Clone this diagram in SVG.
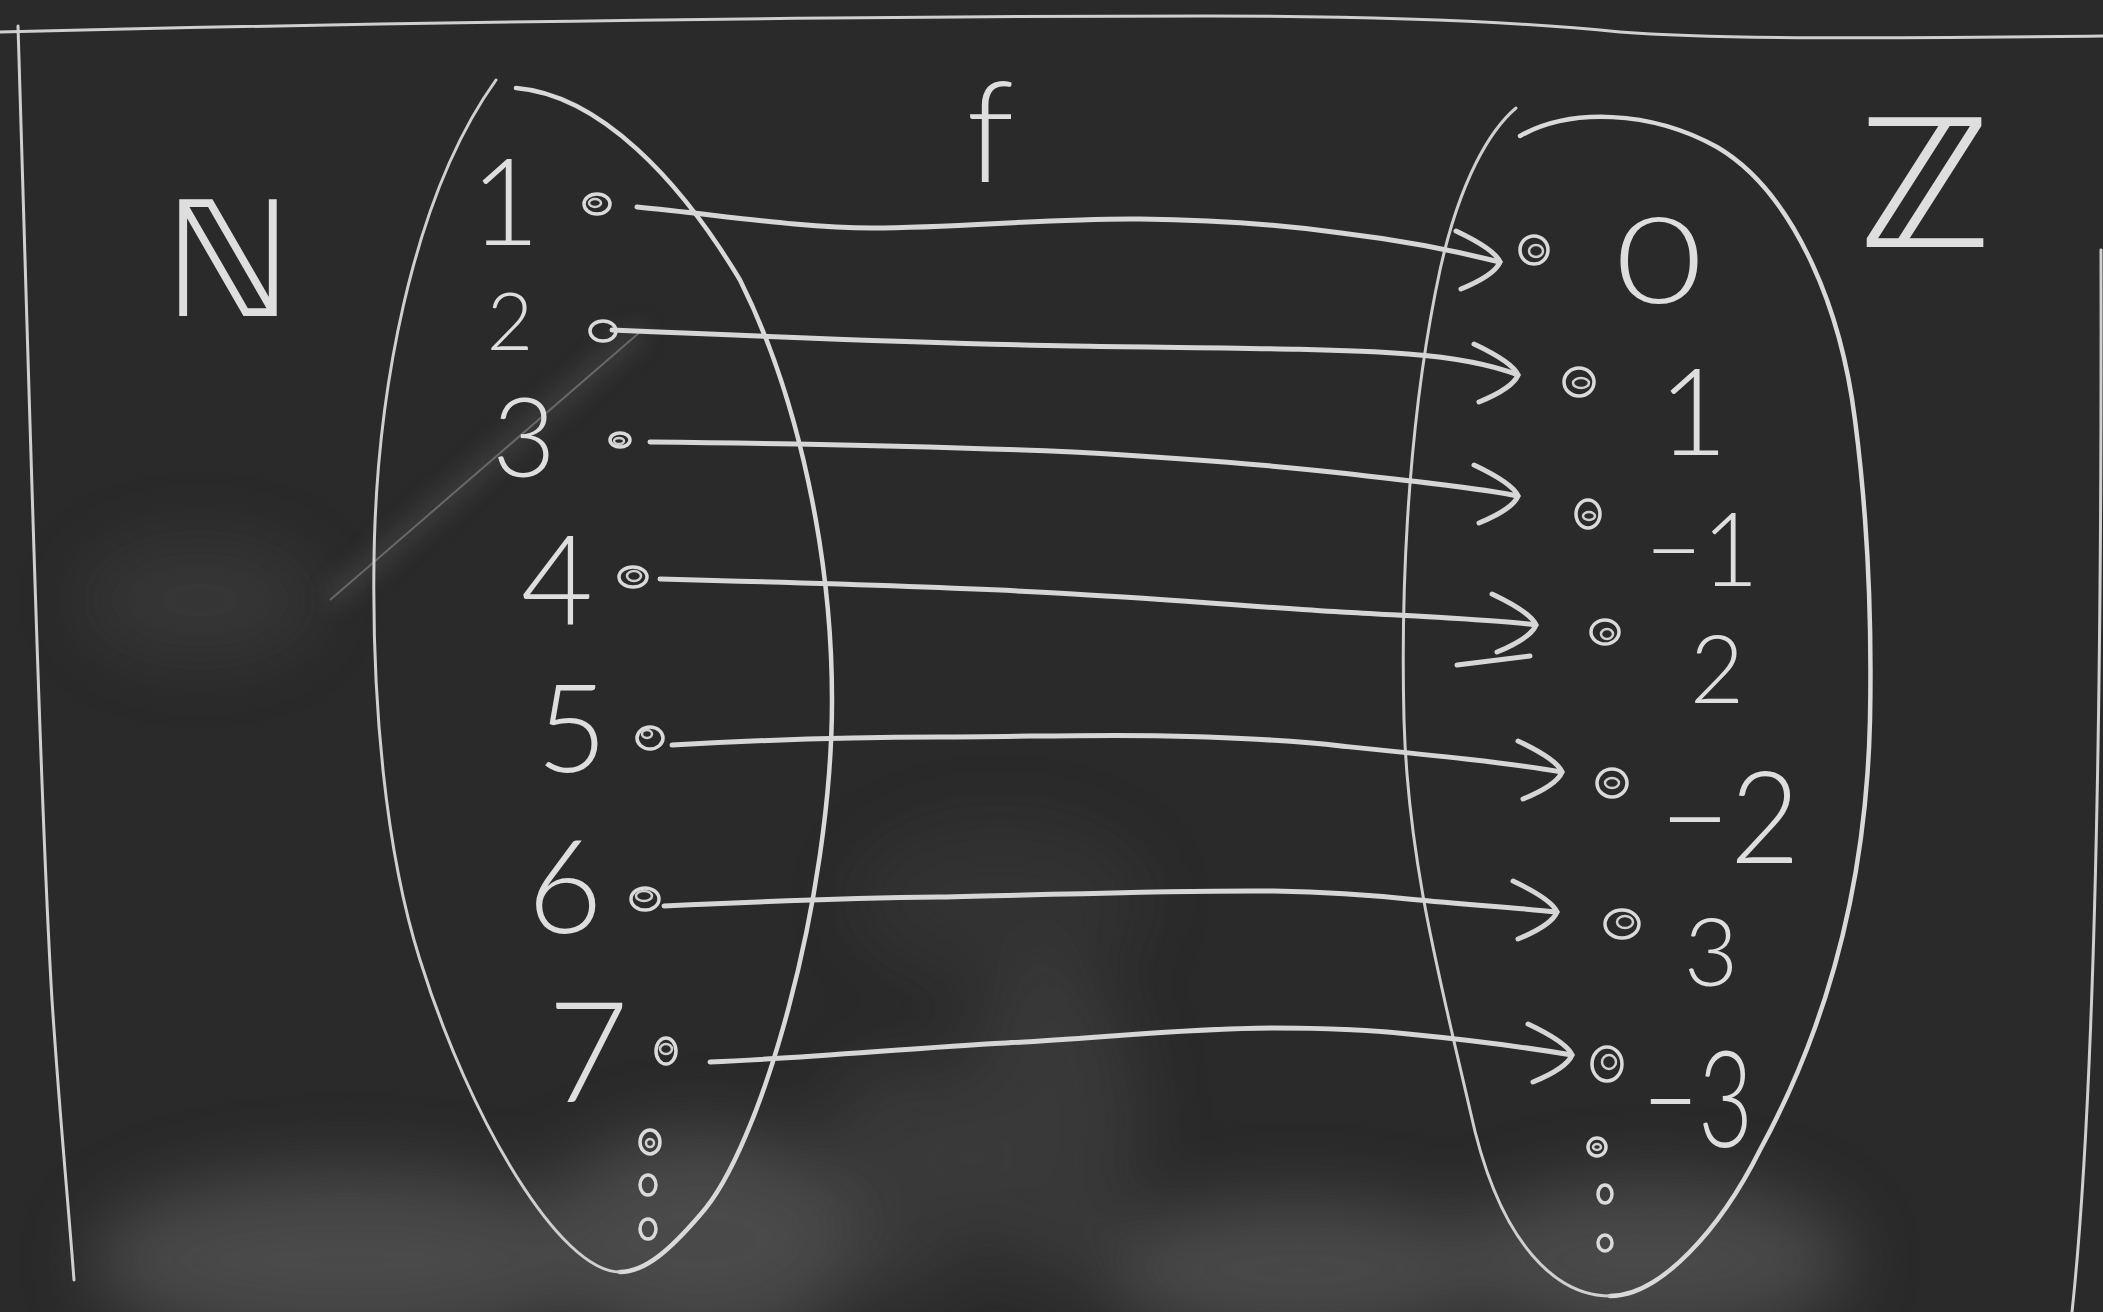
<svg xmlns="http://www.w3.org/2000/svg" xmlns:xlink="http://www.w3.org/1999/xlink" width="2103" height="1312" viewBox="0 0 2103 1312">
<defs>
<style>
.bg{fill:#2a2a2a}
.chalk{fill:none;stroke:#d9d9d9;stroke-width:4.5;stroke-linecap:round;stroke-linejoin:round}
.thin{fill:none;stroke:#cfcfcf;stroke-width:3;stroke-linecap:round}
.dot{fill:none;stroke:#dadada;stroke-width:3.5}
.dotin{fill:none;stroke:#cfcfcf;stroke-width:2.5}
.arrow{fill:none;stroke:#d6d6d6;stroke-width:5;stroke-linecap:round}
.num{fill:#dedede;font-family:Lato,"Open Sans","DejaVu Sans",sans-serif;font-weight:300;text-anchor:middle}
.lbl{fill:#dedede;font-family:"DejaVu Sans","Noto Sans",sans-serif;font-weight:normal;text-anchor:middle}
</style>
<filter id="blur" x="-50%" y="-50%" width="200%" height="200%"><feGaussianBlur stdDeviation="35"/></filter>
<filter id="blur2" x="-50%" y="-50%" width="200%" height="200%"><feGaussianBlur stdDeviation="12"/></filter>
<path id="chev" class="arrow" d="M-44,-31 C-25,-22 -4,-10 0,0 C-4,10 -22,20 -39,27"/>
</defs>

<rect class="bg" x="0" y="0" width="2103" height="1312"/>
<g id="smudges" filter="url(#blur)" fill="#5e5e5e" opacity="0.6">
<ellipse cx="350" cy="1260" rx="260" ry="90"/>
<ellipse cx="700" cy="1240" rx="160" ry="110"/>
<ellipse cx="1300" cy="1270" rx="200" ry="70"/>
<ellipse cx="1650" cy="1260" rx="200" ry="80"/>
<ellipse cx="200" cy="600" rx="120" ry="60" opacity="0.4"/>
<ellipse cx="1000" cy="900" rx="150" ry="80" opacity="0.3"/>
<ellipse cx="1050" cy="1120" rx="90" ry="160" opacity="0.5"/>
<ellipse cx="900" cy="1180" rx="80" ry="120" opacity="0.5"/>
</g>
<g id="stray" filter="url(#blur2)" opacity="0.5">
<path d="M330,600 L640,330" stroke="#777" stroke-width="10" fill="none"/>
</g>
<path d="M330,600 L640,332" stroke="#8a8a8a" stroke-width="2" fill="none" opacity="0.6"/>

<g id="board-frame">
<path class="thin" d="M0,32 C400,22 900,16 1207,16 C1400,16 1520,22 1620,32 C1720,40 1900,38 2103,36"/>
<path class="thin" d="M18,26 C28,350 40,800 52,1000 C60,1120 68,1200 74,1280"/>
<path class="thin" d="M2101,250 C2102,700 2095,1100 2072,1312"/>
</g>

<g id="label-N"><text class="lbl" x="228" y="316" font-size="160">ℕ</text></g>
<g id="label-f"><text class="num" x="990" y="182" font-size="140">f</text></g>
<g id="label-Z"><text class="lbl" x="1925" y="247" font-size="178">ℤ</text></g>

<g id="set-N">
<path class="chalk" d="M516,88 C600,95 680,180 740,280 C800,400 832,560 832,700 C832,900 760,1150 700,1215 C670,1250 645,1272 620,1272"/>
<path class="thin" d="M620,1272 C560,1272 470,1120 420,960 C385,850 372,700 374,560 C376,400 410,200 496,80"/>
<g id="n1"><text class="num" x="505" y="245" font-size="120">1</text><ellipse class="dot" cx="597" cy="204" rx="13" ry="10"/><ellipse class="dotin" cx="595" cy="203" rx="6" ry="4"/></g>
<g id="n2"><text class="num" x="510" y="350" font-size="80">2</text><ellipse class="dot" cx="603" cy="331" rx="13" ry="10"/></g>
<g id="n3"><text class="num" x="524" y="477" font-size="110">3</text><ellipse class="dot" cx="620" cy="440" rx="10" ry="7"/><ellipse class="dotin" cx="619" cy="441" rx="5" ry="3"/></g>
<g id="n4"><text class="num" x="557" y="624" font-size="125">4</text><ellipse class="dot" cx="633" cy="577" rx="14" ry="10"/><ellipse class="dotin" cx="634" cy="576" rx="7" ry="5"/></g>
<g id="n5"><text class="num" x="572" y="772" font-size="122">5</text><ellipse class="dot" cx="650" cy="738" rx="13" ry="11"/><ellipse class="dotin" cx="647" cy="734" rx="5" ry="4"/></g>
<g id="n6"><text class="num" x="565" y="933" font-size="130">6</text><ellipse class="dot" cx="645" cy="899" rx="14" ry="11"/><ellipse class="dotin" cx="644" cy="896" rx="8" ry="5"/></g>
<g id="n7"><text class="num" x="588" y="1102" font-size="140">7</text><ellipse class="dot" cx="666" cy="1051" rx="10" ry="13"/><ellipse class="dotin" cx="666" cy="1049" rx="6" ry="5"/></g>
<g id="n-more">
<ellipse class="dot" cx="650" cy="1142" rx="10" ry="12"/><ellipse class="dotin" cx="650" cy="1143" rx="4" ry="4"/>
<ellipse class="dot" cx="648" cy="1185" rx="8" ry="10"/>
<ellipse class="dot" cx="648" cy="1229" rx="8" ry="10"/>
</g>
</g>

<g id="set-Z">
<path class="chalk" d="M1520,136 C1570,108 1650,110 1717,147 C1790,190 1840,300 1855,420 C1868,520 1872,620 1870,720 C1866,900 1820,1040 1760,1150 C1720,1230 1660,1296 1610,1296"/>
<path class="thin" d="M1610,1296 C1560,1296 1500,1250 1470,1110 C1440,980 1408,860 1404,720 C1400,560 1412,400 1440,270 C1460,180 1490,130 1516,108"/>
<g id="z0"><ellipse class="dot" cx="1534" cy="250" rx="14" ry="14"/><ellipse class="dotin" cx="1536" cy="251" rx="7" ry="6"/><text class="num" x="1659" y="303" font-size="120" textLength="88" lengthAdjust="spacingAndGlyphs">0</text></g>
<g id="z1"><ellipse class="dot" cx="1579" cy="382" rx="15" ry="14"/><ellipse class="dotin" cx="1581" cy="383" rx="8" ry="5"/><text class="num" x="1693" y="455" font-size="120">1</text></g>
<g id="zm1"><ellipse class="dot" cx="1588" cy="514" rx="12" ry="14"/><ellipse class="dotin" cx="1589" cy="516" rx="6" ry="4"/><text class="num" x="1702" y="586" font-size="102" textLength="113" lengthAdjust="spacingAndGlyphs">−1</text></g>
<g id="z2"><ellipse class="dot" cx="1605" cy="632" rx="14" ry="12"/><ellipse class="dotin" cx="1607" cy="634" rx="6" ry="5"/><text class="num" x="1717" y="703" font-size="94">2</text></g>
<g id="zm2"><ellipse class="dot" cx="1612" cy="783" rx="15" ry="14"/><ellipse class="dotin" cx="1612" cy="783" rx="7" ry="5"/><text class="num" x="1730" y="863" font-size="128" textLength="140" lengthAdjust="spacingAndGlyphs">−2</text></g>
<g id="z3"><ellipse class="dot" cx="1622" cy="924" rx="17" ry="14"/><ellipse class="dotin" cx="1625" cy="922" rx="8" ry="6"/><text class="num" x="1711" y="986" font-size="94">3</text></g>
<g id="zm3"><ellipse class="dot" cx="1607" cy="1064" rx="15" ry="17"/><ellipse class="dotin" cx="1609" cy="1062" rx="7" ry="7"/><text class="num" x="1698" y="1147" font-size="134" textLength="110" lengthAdjust="spacingAndGlyphs">−3</text></g>
<g id="z-more">
<ellipse class="dot" cx="1597" cy="1147" rx="9" ry="9"/><ellipse class="dotin" cx="1597" cy="1147" rx="4" ry="3"/>
<ellipse class="dot" cx="1605" cy="1194" rx="7" ry="9"/>
<ellipse class="dot" cx="1605" cy="1243" rx="7" ry="8"/>
</g>
</g>

<g id="connectors">
<path class="arrow" d="M637,207 C720,215 800,228 872,228 C960,228 1050,218 1140,219 C1230,220 1290,226 1341,233 C1400,240 1460,252 1500,262"/>
<use href="#chev" x="1500" y="262"/>
<path class="arrow" d="M612,330 C800,338 950,344 1073,346 C1200,348 1330,348 1408,354 C1460,358 1495,366 1518,375"/>
<use href="#chev" x="1518" y="375"/>
<path class="arrow" d="M650,442 C850,444 980,448 1073,452 C1180,458 1270,465 1341,473 C1420,482 1480,488 1518,496"/>
<use href="#chev" x="1518" y="496"/>
<path class="arrow" d="M660,579 C850,584 980,588 1073,594 C1180,600 1270,608 1341,612 C1430,617 1500,620 1536,625"/>
<use href="#chev" x="1536" y="625"/>
<path class="arrow" d="M1457,665 L1530,656"/>
<path class="arrow" d="M672,745 C760,740 860,737 939,737 C1030,737 1120,733 1207,737 C1260,739 1300,741 1341,746 C1430,755 1510,763 1562,772"/>
<use href="#chev" x="1562" y="772"/>
<path class="arrow" d="M664,906 C750,902 850,898 939,897 C1050,895 1170,890 1274,891 C1320,892 1370,895 1408,899 C1470,905 1520,908 1557,912"/>
<use href="#chev" x="1557" y="912"/>
<path class="arrow" d="M710,1062 C810,1058 910,1048 1006,1043 C1100,1038 1190,1028 1274,1028 C1320,1028 1370,1030 1408,1034 C1470,1040 1530,1048 1572,1055"/>
<use href="#chev" x="1572" y="1055"/>
</g>
</svg>
